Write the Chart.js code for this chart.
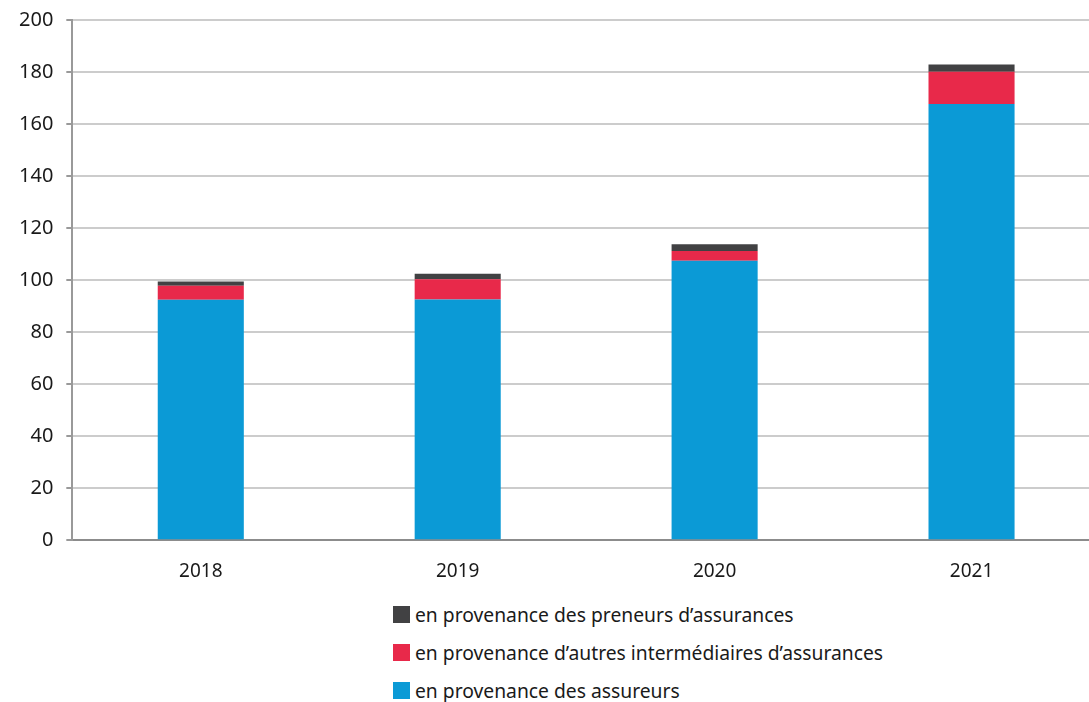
<!DOCTYPE html>
<html>
<head>
<meta charset="utf-8">
<script src="https://cdn.jsdelivr.net/npm/chart.js@4/dist/chart.umd.min.js"></script>
<style>
  html, body { margin: 0; padding: 0; background: #fff; overflow: hidden; }
  #wrap { position: relative; width: 1100px; height: 600px; margin-top: -5px; }
  #legend { position: absolute; left: 393px; top: 595px; font-family: "Noto Sans", sans-serif; font-size: 19.3px; color: #1a1a1a; }
  .item { display: flex; align-items: center; height: 38px; }
  .sw { width: 17px; height: 17px; margin-right: 5px; }
</style>
</head>
<body>
<div id="wrap"><canvas id="chart"></canvas></div>
<div id="legend"></div>
<script>
  // Data
  const years = ['2018', '2019', '2020', '2021'];
  const assureurs = [92.4, 92.5, 107.4, 167.7];
  const intermediaires = [5.4, 7.8, 3.8, 12.4];
  const preneurs = [1.7, 2.1, 2.6, 2.8];
  const yTicks = [0, 20, 40, 60, 80, 100, 120, 140, 160, 180, 200];

  const labels = [
    'en provenance des assureurs',
    'en provenance d\u2019autres intermédiaires d\u2019assurances',
    'en provenance des preneurs d\u2019assurances'
  ];
  const colors = ['#0b9ad6', '#e8294a', '#414143'];

  const ctx = document.getElementById('chart').getContext('2d');
  new Chart(ctx, {
    type: 'bar',
    data: {
      labels: years,
      datasets: [
        { label: labels[0], data: assureurs, backgroundColor: colors[0] },
        { label: labels[1], data: intermediaires, backgroundColor: colors[1] },
        { label: labels[2], data: preneurs, backgroundColor: colors[2] }
      ]
    },
    options: {
      responsive: true,
      maintainAspectRatio: false,
      animation: false,
      layout: { padding: { top: 3, left: 6, right: 0, bottom: 0 } },
      datasets: { bar: { barPercentage: 0.335, categoryPercentage: 1 } },
      plugins: {
        legend: { display: false },
        tooltip: { enabled: false }
      },
      scales: {
        x: {
          stacked: true,
          grid: { display: false },
          border: { color: '#8c8c8c', width: 2 },
          ticks: { color: '#1a1a1a', padding: 12, font: { family: 'Noto Sans', size: 19 } }
        },
        y: {
          stacked: true,
          min: 0,
          max: 200,
          afterBuildTicks: (axis) => { axis.ticks = yTicks.map(v => ({ value: v })); },
          grid: { color: '#cccccc', lineWidth: 2, tickLength: 6, tickColor: '#999999' },
          border: { color: '#999999', width: 2 },
          ticks: { color: '#1a1a1a', padding: 13, font: { family: 'Noto Sans', size: 20 } }
        }
      }
    }
  });

  // Legend (top to bottom: preneurs, intermédiaires, assureurs)
  const legend = document.getElementById('legend');
  [2, 1, 0].forEach(i => {
    const row = document.createElement('div');
    row.className = 'item';
    row.innerHTML = '<span class="sw" style="background:' + colors[i] + '"></span><span>' + labels[i] + '</span>';
    legend.appendChild(row);
  });
</script>
</body>
</html>
